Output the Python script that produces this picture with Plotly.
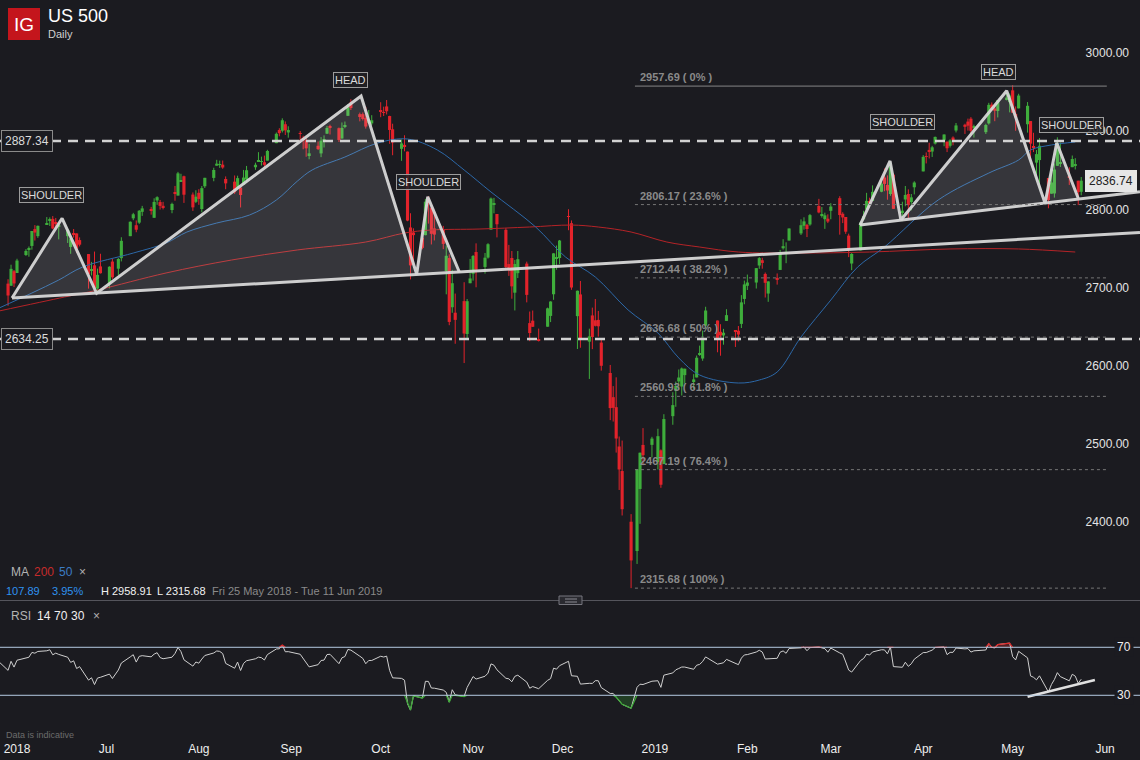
import numpy as np
import pandas as pd
import plotly.graph_objects as go

# ---------------- DATA ----------------
dates = [
 "2018-05-25","2018-05-29","2018-05-30","2018-05-31",
 "2018-06-01","2018-06-04","2018-06-05","2018-06-06","2018-06-07","2018-06-08","2018-06-11","2018-06-12","2018-06-13","2018-06-14","2018-06-15",
 "2018-06-18","2018-06-19","2018-06-20","2018-06-21","2018-06-22","2018-06-25","2018-06-26","2018-06-27","2018-06-28","2018-06-29",
 "2018-07-02","2018-07-03","2018-07-05","2018-07-06","2018-07-09","2018-07-10","2018-07-11","2018-07-12","2018-07-13","2018-07-16","2018-07-17",
 "2018-07-18","2018-07-19","2018-07-20","2018-07-23","2018-07-24","2018-07-25","2018-07-26","2018-07-27","2018-07-30","2018-07-31",
 "2018-08-01","2018-08-02","2018-08-03","2018-08-06","2018-08-07","2018-08-08","2018-08-09","2018-08-10","2018-08-13","2018-08-14","2018-08-15","2018-08-16",
 "2018-08-17","2018-08-20","2018-08-21","2018-08-22","2018-08-23","2018-08-24","2018-08-27","2018-08-28","2018-08-29","2018-08-30","2018-08-31",
 "2018-09-04","2018-09-05","2018-09-06","2018-09-07","2018-09-10","2018-09-11","2018-09-12","2018-09-13","2018-09-14","2018-09-17",
 "2018-09-18","2018-09-19","2018-09-20","2018-09-21","2018-09-24","2018-09-25","2018-09-26","2018-09-27","2018-09-28",
 "2018-10-01","2018-10-02","2018-10-03","2018-10-04","2018-10-05","2018-10-08","2018-10-09","2018-10-10","2018-10-11","2018-10-12","2018-10-15","2018-10-16",
 "2018-10-17","2018-10-18","2018-10-19","2018-10-22","2018-10-23","2018-10-24","2018-10-25","2018-10-26","2018-10-29","2018-10-30","2018-10-31",
 "2018-11-01","2018-11-02","2018-11-05","2018-11-06","2018-11-07","2018-11-08","2018-11-09","2018-11-12","2018-11-13","2018-11-14","2018-11-15",
 "2018-11-16","2018-11-19","2018-11-20","2018-11-21","2018-11-23","2018-11-26","2018-11-27","2018-11-28","2018-11-29","2018-11-30",
 "2018-12-03","2018-12-04","2018-12-06","2018-12-07","2018-12-10","2018-12-11","2018-12-12","2018-12-13","2018-12-14","2018-12-17",
 "2018-12-18","2018-12-19","2018-12-20","2018-12-21","2018-12-24","2018-12-26","2018-12-27","2018-12-28","2018-12-31",
 "2019-01-02","2019-01-03","2019-01-04","2019-01-07","2019-01-08","2019-01-09","2019-01-10","2019-01-11","2019-01-14","2019-01-15","2019-01-16",
 "2019-01-17","2019-01-18","2019-01-22","2019-01-23","2019-01-24","2019-01-25","2019-01-28","2019-01-29","2019-01-30","2019-01-31",
 "2019-02-01","2019-02-04","2019-02-05","2019-02-06","2019-02-07","2019-02-08","2019-02-11","2019-02-12","2019-02-13","2019-02-14",
 "2019-02-15","2019-02-19","2019-02-20","2019-02-21","2019-02-22","2019-02-25","2019-02-26","2019-02-27","2019-02-28",
 "2019-03-01","2019-03-04","2019-03-05","2019-03-06","2019-03-07","2019-03-08","2019-03-11","2019-03-12","2019-03-13","2019-03-14","2019-03-15",
 "2019-03-18","2019-03-19","2019-03-20","2019-03-21","2019-03-22","2019-03-25","2019-03-26","2019-03-27","2019-03-28","2019-03-29",
 "2019-04-01","2019-04-02","2019-04-03","2019-04-04","2019-04-05","2019-04-08","2019-04-09","2019-04-10","2019-04-11","2019-04-12","2019-04-15",
 "2019-04-16","2019-04-17","2019-04-18","2019-04-22","2019-04-23","2019-04-24","2019-04-25","2019-04-26","2019-04-29","2019-04-30",
 "2019-05-01","2019-05-02","2019-05-03","2019-05-06","2019-05-07","2019-05-08","2019-05-09","2019-05-10","2019-05-13","2019-05-14","2019-05-15",
 "2019-05-16","2019-05-17","2019-05-20","2019-05-21","2019-05-22","2019-05-23","2019-05-24",
]

opens = [
 2727.0,2705.1,2702.4,2721.0,
 2718.7,2741.7,2748.5,2753.3,2774.8,2765.8,2780.2,2785.6,2787.9,2783.2,2777.8,2765.8,2752.0,2769.7,2769.3,2760.8,2742.9,2722.1,2728.5,2698.7,2727.1,
 2705.0,2733.3,2724.2,2737.7,2765.8,2788.6,2779.8,2783.1,2796.9,2800.6,2789.3,2811.4,2809.4,2804.6,2799.2,2820.7,2817.7,2835.5,2842.4,2819.0,2809.7,
 2821.2,2800.5,2829.6,2840.3,2855.9,2856.8,2857.2,2838.9,2835.5,2827.9,2828.0,2831.4,2838.3,2853.9,2861.5,2861.0,2860.3,2862.4,2884.7,2901.5,2900.6,2908.9,2898.4,
 2897.0,2891.6,2888.6,2868.3,2881.4,2871.6,2888.3,2896.9,2906.4,2903.8,2890.7,2906.6,2919.7,2936.8,2921.8,2921.8,2917.0,2911.7,2910.0,
 2926.3,2923.8,2931.7,2919.4,2902.5,2877.5,2882.5,2873.9,2776.9,2770.5,2763.8,2767.1,2811.7,2802.0,2775.7,2773.9,2721.0,2737.9,2674.9,2667.9,2682.7,2640.7,2705.6,
 2717.6,2745.5,2726.4,2738.4,2774.1,2806.4,2794.1,2773.9,2730.1,2737.9,2693.5,2718.5,2730.7,2654.6,2657.7,2633.4,2650.0,2663.8,2691.5,2737.0,2737.8,
 2790.5,2782.4,2663.5,2691.3,2630.9,2664.4,2658.2,2658.7,2629.7,2590.8,2559.9,2547.1,2496.8,2465.4,2400.6,2363.1,2442.5,2498.8,2498.9,
 2477.0,2491.9,2474.3,2535.6,2568.1,2580.0,2573.5,2588.1,2580.3,2585.1,2614.8,2609.3,2651.3,2657.9,2643.5,2638.8,2657.4,2645.0,2644.9,2653.6,2685.5,
 2702.3,2706.5,2728.3,2735.1,2717.5,2692.4,2712.4,2722.6,2750.3,2743.5,2760.2,2769.3,2779.1,2780.2,2780.7,2804.4,2792.4,2787.5,2788.1,
 2798.2,2814.4,2794.4,2790.3,2766.5,2730.8,2747.6,2787.3,2799.8,2810.4,2810.8,2822.6,2840.8,2831.3,2819.7,2844.5,2796.0,2812.7,2819.7,2809.4,2828.3,
 2848.6,2868.2,2876.1,2874.0,2884.2,2888.5,2886.6,2881.4,2891.9,2900.9,2908.3,2912.3,2916.0,2904.8,2898.8,2910.0,2934.0,2929.0,2925.8,2940.6,2937.1,
 2952.3,2922.2,2929.2,2908.9,2913.0,2879.6,2859.8,2863.1,2840.2,2820.1,2820.4,2855.8,2858.6,2841.9,2854.0,2856.1,2836.7,2822.5,
]

highs = [
 2731.0,2710.7,2729.3,2722.5,
 2736.9,2749.2,2752.6,2772.4,2779.9,2779.4,2790.2,2789.8,2791.5,2789.1,2782.8,2775.0,2765.1,2774.9,2769.3,2764.2,2742.9,2732.9,2746.1,2724.3,2743.3,
 2727.3,2736.6,2737.8,2764.4,2784.7,2795.6,2785.9,2799.2,2804.5,2803.2,2814.2,2816.8,2812.1,2809.7,2808.6,2830.0,2848.0,2845.6,2843.2,2821.7,2824.5,
 2825.8,2829.9,2840.4,2853.3,2863.4,2862.4,2862.5,2842.2,2843.4,2843.1,2828.0,2850.5,2855.6,2859.8,2873.2,2867.5,2868.8,2876.2,2898.3,2903.8,2916.5,2912.5,2906.3,
 2900.2,2894.2,2892.1,2883.8,2886.9,2892.5,2894.7,2906.8,2908.3,2904.7,2911.2,2912.4,2934.8,2940.9,2923.8,2924.0,2931.2,2927.2,2920.5,
 2937.1,2931.4,2939.9,2919.8,2909.6,2889.5,2894.8,2874.0,2795.1,2775.8,2776.0,2813.5,2816.9,2806.0,2797.8,2778.9,2753.6,2742.6,2722.7,2692.4,2706.9,2685.4,2736.7,
 2741.7,2756.6,2744.3,2756.8,2815.2,2814.8,2794.1,2776.0,2754.6,2746.8,2735.4,2746.8,2733.2,2669.4,2670.7,2647.6,2674.4,2682.5,2744.0,2753.8,2760.9,
 2800.2,2785.9,2696.2,2708.5,2647.5,2674.4,2685.4,2670.2,2635.1,2601.1,2574.0,2585.3,2509.6,2504.4,2410.3,2467.8,2489.1,2520.3,2509.2,
 2519.5,2493.1,2538.1,2566.2,2579.8,2595.3,2597.8,2596.3,2589.3,2613.1,2625.8,2645.1,2675.5,2657.9,2653.2,2647.2,2672.4,2645.0,2650.9,2690.4,2709.0,
 2716.7,2725.0,2739.0,2738.1,2719.3,2708.1,2718.1,2748.2,2761.9,2757.9,2775.7,2787.3,2789.9,2781.6,2794.2,2813.5,2803.1,2795.8,2793.7,
 2808.0,2816.9,2796.4,2790.3,2769.0,2744.1,2784.0,2798.3,2821.2,2815.0,2830.7,2835.4,2852.4,2843.5,2860.3,2846.2,2809.8,2829.9,2825.6,2819.7,2836.0,
 2869.4,2872.9,2885.3,2881.3,2893.2,2896.0,2886.9,2889.7,2893.4,2910.5,2909.6,2916.1,2918.0,2908.4,2909.5,2936.3,2936.8,2933.1,2939.9,2949.5,2948.2,
 2958.91,2931.7,2947.9,2937.3,2913.0,2898.0,2876.0,2891.3,2840.2,2852.5,2858.7,2892.2,2885.5,2853.9,2868.9,2865.5,2836.7,2841.4,
]

lows = [
 2715.0,2676.8,2702.4,2700.7,
 2718.7,2740.5,2739.5,2748.5,2760.2,2763.6,2780.2,2778.8,2774.7,2776.5,2761.7,2757.1,2743.2,2763.9,2744.4,2752.7,2698.7,2715.6,2699.4,2692.0,2718.0,
 2699.0,2711.2,2716.0,2733.5,2765.8,2786.2,2770.8,2781.5,2791.7,2793.3,2789.2,2805.9,2799.8,2800.0,2795.1,2811.1,2817.7,2835.3,2808.3,2798.1,2808.1,
 2805.9,2796.3,2827.4,2836.0,2855.9,2853.1,2852.0,2825.8,2819.9,2826.6,2802.5,2831.4,2833.7,2850.6,2861.3,2856.1,2854.0,2862.4,2884.7,2893.5,2898.4,2895.2,2891.7,
 2885.1,2876.9,2867.3,2864.1,2875.9,2866.8,2879.2,2896.4,2895.8,2886.2,2890.4,2903.8,2919.7,2927.1,2912.6,2913.7,2903.3,2909.3,2907.5,
 2917.9,2919.4,2921.4,2883.9,2869.3,2862.1,2874.3,2784.9,2710.5,2729.4,2749.0,2766.9,2781.8,2755.2,2760.3,2749.2,2691.4,2651.9,2667.8,2628.2,2603.5,2635.3,2705.6,
 2708.9,2700.4,2717.9,2737.1,2774.1,2795.0,2764.2,2722.0,2715.0,2685.8,2670.8,2712.2,2681.1,2631.5,2649.8,2631.1,2650.0,2655.9,2684.4,2722.9,2730.1,
 2773.4,2697.2,2621.5,2623.1,2583.2,2621.3,2650.3,2637.3,2593.8,2530.5,2528.7,2489.0,2441.2,2408.6,2315.68,2346.6,2397.9,2472.9,2482.8,
 2467.5,2444.0,2474.3,2524.6,2547.6,2568.9,2562.0,2577.4,2570.4,2585.1,2612.7,2606.4,2647.6,2617.3,2612.9,2627.0,2657.3,2624.1,2631.1,2648.3,2678.7,
 2696.9,2698.8,2724.0,2724.2,2687.3,2681.8,2703.8,2722.6,2748.6,2731.2,2760.2,2767.3,2774.1,2764.6,2779.1,2795.0,2789.5,2775.1,2782.5,
 2787.4,2767.7,2782.5,2768.7,2739.0,2722.3,2747.6,2786.7,2799.8,2803.5,2810.8,2822.0,2823.3,2812.4,2817.4,2800.5,2785.0,2804.0,2787.7,2798.8,2819.2,
 2848.6,2858.8,2865.2,2867.1,2883.0,2880.8,2873.3,2879.1,2882.0,2898.4,2896.5,2900.7,2895.5,2891.9,2896.4,2908.5,2926.1,2912.8,2917.6,2939.4,2924.1,
 2923.4,2900.5,2929.2,2898.2,2862.6,2873.3,2836.4,2825.4,2801.4,2820.1,2815.1,2855.8,2854.2,2831.3,2854.0,2851.1,2805.5,2818.0,
]

closes = [
 2721.3,2689.9,2724.0,2705.3,
 2734.6,2746.9,2748.8,2772.4,2770.4,2779.0,2782.0,2786.9,2775.6,2782.5,2779.7,2773.8,2762.6,2767.3,2749.8,2754.9,2717.1,2723.1,2699.6,2716.3,2718.4,
 2726.7,2713.2,2736.6,2759.8,2784.2,2793.8,2774.0,2798.3,2801.3,2798.4,2809.6,2815.6,2804.5,2801.8,2807.0,2820.4,2846.1,2837.4,2818.8,2802.6,2816.3,
 2813.4,2827.2,2840.4,2850.4,2858.5,2857.7,2853.6,2833.3,2821.9,2840.0,2818.4,2840.7,2850.1,2857.1,2863.0,2861.8,2857.0,2874.7,2896.7,2897.5,2914.0,2901.1,2901.5,
 2896.7,2888.6,2878.1,2871.7,2877.1,2887.9,2888.9,2904.2,2905.0,2888.8,2904.3,2908.0,2930.8,2929.7,2919.4,2915.6,2906.0,2914.0,2914.0,
 2924.6,2923.4,2925.5,2901.6,2885.6,2884.4,2880.3,2785.7,2728.4,2767.1,2750.8,2809.9,2809.2,2768.8,2767.8,2755.9,2740.7,2656.1,2705.6,2658.7,2641.3,2682.6,2711.7,
 2740.4,2723.1,2738.3,2755.5,2813.9,2806.8,2781.0,2726.2,2722.2,2701.6,2730.2,2736.3,2690.7,2641.9,2649.9,2632.6,2673.5,2682.2,2743.8,2737.8,2760.2,
 2790.4,2700.1,2696.0,2633.1,2637.7,2636.8,2651.1,2650.5,2600.0,2545.9,2546.2,2507.0,2467.4,2416.6,2351.1,2467.7,2488.8,2485.7,2506.9,
 2510.0,2447.9,2531.9,2549.7,2574.4,2585.0,2596.6,2596.3,2582.6,2610.3,2616.1,2636.0,2670.7,2632.9,2638.7,2642.3,2664.8,2643.9,2640.0,2681.1,2704.1,
 2706.5,2724.9,2737.7,2731.6,2706.1,2707.9,2709.8,2744.7,2753.0,2745.7,2775.6,2779.8,2784.7,2774.9,2792.7,2796.1,2793.9,2792.4,2784.5,
 2803.7,2792.8,2789.7,2771.5,2748.9,2743.1,2783.3,2791.5,2810.9,2808.5,2822.5,2832.9,2832.6,2824.2,2854.9,2800.7,2798.4,2818.5,2805.4,2815.4,2834.4,
 2867.2,2867.2,2873.4,2879.4,2892.7,2895.8,2878.2,2888.2,2888.3,2907.4,2905.6,2907.1,2900.5,2905.0,2908.0,2933.7,2927.3,2926.2,2939.9,2943.0,2945.8,
 2923.7,2917.5,2945.6,2932.5,2884.1,2879.4,2870.7,2881.4,2811.9,2834.4,2851.0,2876.3,2859.5,2840.2,2864.4,2856.3,2822.2,2836.74,
]

# closes before the visible window (Apr-May 2018), only used to seed the RSI
warmup_closes = [
 2581.9,2614.5,2644.7,2662.8,2604.5,2613.2,2656.9,2642.2,2664.0,2656.3,2677.8,2706.4,2708.6,2693.1,2670.1,
 2670.3,2634.6,2639.4,2666.9,2669.9,2648.1,2654.8,2635.7,2629.7,2663.4,2672.6,2671.9,2697.8,2723.1,2727.7,
 2730.1,2711.5,2722.5,2720.1,2713.0,2733.0,2724.4,2733.3,2727.8,
]

# moving averages
ma50_dates = ["2018-05-26","2018-06-06","2018-06-15","2018-06-23","2018-07-10","2018-07-21","2018-07-28","2018-08-07",
              "2018-08-18","2018-08-27","2018-09-03","2018-09-08","2018-09-19","2018-09-30","2018-10-10","2018-10-20",
              "2018-10-29","2018-11-07","2018-11-22","2018-12-02","2018-12-12","2018-12-23","2019-01-02","2019-01-09",
              "2019-01-16","2019-01-29","2019-02-05","2019-02-11","2019-02-19","2019-03-01","2019-03-10","2019-03-19",
              "2019-04-06","2019-04-23","2019-05-03","2019-05-07","2019-05-14","2019-05-22"]
ma50_values = [2673.9,2693.1,2709.7,2726.3,2744.2,2757.0,2771.1,2782.6,
               2792.8,2812.0,2836.0,2850.4,2867.0,2884.9,2890.0,2876.0,
               2850.4,2822.3,2777.5,2739.1,2713.6,2671.4,2642.0,2610.0,
               2588.2,2578.0,2581.8,2592.1,2636.8,2684.1,2726.3,2751.9,
               2812.0,2846.5,2863.2,2876.0,2882.4,2886.2]
ma200_dates = ["2018-05-26","2018-06-17","2018-06-28","2018-07-21","2018-08-12","2018-09-03","2018-09-26","2018-10-09",
               "2018-10-18","2018-11-03","2018-11-20","2018-12-04","2018-12-13","2018-12-24","2019-01-05","2019-01-16",
               "2019-01-29","2019-02-18","2019-03-14","2019-04-10","2019-05-03","2019-05-22"]
ma200_values = [2670.1,2688.0,2696.9,2718.7,2735.3,2748.1,2758.3,2769.8,
                2773.7,2774.9,2777.5,2780.0,2777.5,2771.1,2758.3,2751.9,
                2745.5,2744.2,2745.5,2749.4,2749.4,2745.5]

# Fibonacci retracement levels
fib_levels = [2957.69, 2806.17, 2712.44, 2636.68, 2560.93, 2467.19, 2315.68]
fib_pcts = ["0%", "23.6%", "38.2%", "50%", "61.8%", "76.4%", "100%"]
fib_start, fib_end = "2018-12-25 07:00", "2019-06-01 14:00"

# horizontal levels
h_levels = [2887.34, 2634.25]
last_price = 2836.74

# head & shoulders drawings
hs1_dates = ["2018-05-30 08:00","2018-06-16 03:00","2018-06-27 17:00","2018-09-24 10:00",
             "2018-10-13 02:00","2018-10-16 19:00","2018-10-27 10:00"]
hs1_values = [2686.7, 2788.6, 2692.7, 2945.0, 2717.0, 2816.2, 2719.6]
neck1_dates = ["2018-05-30 08:00", "2019-06-12 17:00"]
neck1_values = [2686.7, 2770.6]
hs2_dates = ["2019-03-10 19:00","2019-03-20 21:00","2019-03-24 12:00","2019-04-29 00:00",
             "2019-05-11 21:00","2019-05-15 19:00","2019-05-23 00:00"]
hs2_values = [2780.0, 2861.9, 2786.4, 2951.8, 2807.8, 2885.3, 2814.2]
neck2_dates = ["2019-03-10 19:00", "2019-06-12 17:00"]
neck2_values = [2780.0, 2822.6]
rsi_trend_dates = ["2019-05-06 00:00", "2019-05-28 14:00"]
rsi_trend_values = [28.8, 42.8]

month_ticks = ["2018-06-01","2018-07-01","2018-08-01","2018-09-01","2018-10-01","2018-11-01","2018-12-01",
               "2019-01-01","2019-02-01","2019-03-01","2019-04-01","2019-05-01","2019-06-01"]
month_labels = ["2018","Jul","Aug","Sep","Oct","Nov","Dec","2019","Feb","Mar","Apr","May","Jun"]

# ---------------- RSI (14, Wilder) ----------------
allc = np.array(warmup_closes + closes, dtype=float)
d = np.diff(allc)
gain = np.clip(d, 0, None)
loss = np.clip(-d, 0, None)
n = 14
rsi_all = np.full(len(allc), np.nan)
ag, al = gain[:n].mean(), loss[:n].mean()
rsi_all[n] = 100 - 100 / (1 + ag / al)
for i in range(n + 1, len(allc)):
    ag = (ag * (n - 1) + gain[i - 1]) / n
    al = (al * (n - 1) + loss[i - 1]) / n
    rsi_all[i] = 100.0 if al == 0 else 100 - 100 / (1 + ag / al)
rsi = rsi_all[len(warmup_closes):]

# ---------------- STYLE ----------------
BG = "#1b1b20"
UP, DOWN = "#3fae3c", "#e3232b"
W, PH = 1140, 740
FONT = "Liberation Sans, Arial, Helvetica, sans-serif"
DAY_MS = 86400000


def px(p):
    return p / W


def py(p):
    return (PH - p) / PH


x_start = pd.Timestamp("2018-06-01") - pd.Timedelta(days=17 / 2.981)
x_end = pd.Timestamp("2018-06-01") + pd.Timedelta(days=1123 / 2.981)

fig = go.Figure()

# ---- candles: wicks + bodies ----
o = np.array(opens); h = np.array(highs); l = np.array(lows); c = np.array(closes)
is_up = c >= o
for mask, col in [(is_up, UP), (~is_up, DOWN)]:
    wx, wy = [], []
    for dt, hi, lo in zip(np.array(dates)[mask], h[mask], l[mask]):
        wx += [dt, dt, None]
        wy += [lo, hi, None]
    fig.add_trace(go.Scatter(x=wx, y=wy, mode="lines", line=dict(color=col, width=1),
                             xaxis="x", yaxis="y", hoverinfo="skip"))
    base = np.minimum(o, c)[mask]
    size = np.maximum(np.abs(c - o)[mask], 0.9)
    fig.add_trace(go.Bar(x=np.array(dates)[mask], y=size, base=base, width=DAY_MS * 1.05,
                         marker=dict(color=col, line=dict(width=0)), xaxis="x", yaxis="y", hoverinfo="skip"))

fig.add_trace(go.Scatter(x=ma200_dates, y=ma200_values, mode="lines", line=dict(color="#b52327", width=1, shape="spline"),
                         xaxis="x", yaxis="y", hoverinfo="skip"))
fig.add_trace(go.Scatter(x=ma50_dates, y=ma50_values, mode="lines", line=dict(color="#2c68a8", width=1, shape="spline"),
                         xaxis="x", yaxis="y", hoverinfo="skip"))

# pattern fills and outlines
for pd_, pv_ in [(hs1_dates, hs1_values), (hs2_dates, hs2_values)]:
    fig.add_trace(go.Scatter(x=pd_ + [pd_[0]], y=pv_ + [pv_[0]], mode="lines", fill="toself",
                             fillcolor="rgba(255,255,255,0.12)", line=dict(width=0),
                             xaxis="x", yaxis="y", hoverinfo="skip"))
for pd_, pv_ in [(neck1_dates, neck1_values), (neck2_dates, neck2_values), (hs1_dates, hs1_values), (hs2_dates, hs2_values)]:
    fig.add_trace(go.Scatter(x=pd_, y=pv_, mode="lines", line=dict(color="rgba(215,215,215,0.95)", width=3),
                             xaxis="x", yaxis="y", hoverinfo="skip"))

# RSI panel
N = len(dates)
rsi_hi = np.maximum(rsi, 70)
rsi_lo = np.minimum(rsi, 30)
fig.add_trace(go.Scatter(x=dates, y=[70] * N, mode="lines", line=dict(width=0), xaxis="x2", yaxis="y2", hoverinfo="skip"))
fig.add_trace(go.Scatter(x=dates, y=rsi_hi, mode="lines", line=dict(width=0), fill="tonexty",
                         fillcolor="rgba(220,40,40,0.3)", xaxis="x2", yaxis="y2", hoverinfo="skip"))
fig.add_trace(go.Scatter(x=dates, y=[30] * N, mode="lines", line=dict(width=0), xaxis="x2", yaxis="y2", hoverinfo="skip"))
fig.add_trace(go.Scatter(x=dates, y=rsi_lo, mode="lines", line=dict(width=0), fill="tonexty",
                         fillcolor="rgba(45,130,45,0.35)", xaxis="x2", yaxis="y2", hoverinfo="skip"))
fig.add_trace(go.Scatter(x=dates, y=rsi, mode="lines", line=dict(color="#cfcfcf", width=1),
                         xaxis="x2", yaxis="y2", hoverinfo="skip"))

above = rsi > 70
below = rsi < 30
m_hi = above | np.roll(above, 1) | np.roll(above, -1)
m_lo = below | np.roll(below, 1) | np.roll(below, -1)
fig.add_trace(go.Scatter(x=dates, y=np.where(m_hi, rsi_hi, np.nan), mode="lines", line=dict(color="#e02a2a", width=1.2),
                         connectgaps=False, xaxis="x2", yaxis="y2", hoverinfo="skip"))
fig.add_trace(go.Scatter(x=dates, y=np.where(m_lo, rsi_lo, np.nan), mode="lines", line=dict(color="#3caa35", width=1.2),
                         connectgaps=False, xaxis="x2", yaxis="y2", hoverinfo="skip"))
fig.add_trace(go.Scatter(x=rsi_trend_dates, y=rsi_trend_values, mode="lines", line=dict(color="#e0e0e0", width=2.5),
                         xaxis="x2", yaxis="y2", hoverinfo="skip"))

# ---------------- SHAPES ----------------
shapes = []
for lv in h_levels:
    shapes.append(dict(type="line", xref="paper", x0=0, x1=1, yref="y", y0=lv, y1=lv,
                       line=dict(color="#d2d2d2", width=2.5, dash="10px,7px")))
for lv, pc in zip(fib_levels, fib_pcts):
    shapes.append(dict(type="line", xref="x", x0=fib_start, x1=fib_end, yref="y", y0=lv, y1=lv,
                       line=dict(color="#858585" if pc == "0%" else "#767676", width=1,
                                 dash="solid" if pc == "0%" else "3px,3px")))
for lv in (70, 30):
    shapes.append(dict(type="line", xref="paper", x0=0, x1=1, yref="y2", y0=lv, y1=lv,
                       line=dict(color="#b5cbe2", width=1)))
# separator + handle
shapes.append(dict(type="line", xref="paper", yref="paper", x0=0, x1=1, y0=py(600.5), y1=py(600.5),
                   line=dict(color="#55555c", width=1)))
shapes.append(dict(type="rect", xref="paper", yref="paper", x0=px(559), x1=px(582), y0=py(604.5), y1=py(596),
                   fillcolor="#2a2a30", line=dict(color="#76767e", width=1)))
for yy in (599, 602):
    shapes.append(dict(type="line", xref="paper", yref="paper", x0=px(565), x1=px(577), y0=py(yy), y1=py(yy),
                       line=dict(color="#8a8a92", width=1)))
# logo
shapes.append(dict(type="rect", xref="paper", yref="paper", x0=px(8), x1=px(40), y0=py(40), y1=py(8),
                   fillcolor="#c4151c", line=dict(width=0)))

# ---------------- ANNOTATIONS ----------------
ann = []


def txt(text, x, y, size=12, color="#ddd", xanchor="left", **kw):
    ann.append(dict(text=text, xref="paper", yref="paper", x=px(x), y=py(y), xanchor=xanchor, yanchor="middle",
                    showarrow=False, font=dict(size=size, color=color, family=FONT), **kw))


txt("IG", 24, 25, size=19, color="#ffffff", xanchor="center")
txt("US 500", 46, 16, size=18, color="#ffffff")
txt("Daily", 46, 34, size=11, color="#d0d0d0")

for t, x, cc in [("MA", 9, "#b4b4b4"), ("200", 32, "#c62b2b"), ("50", 57, "#3b7cc4"), ("×", 77, "#b0b0b0")]:
    txt(t, x, 572, size=12, color=cc)
for t, x, cc in [("107.89", 4, "#2f93f0"), ("3.95%", 50, "#2f93f0"), ("H 2958.91", 99, "#f2f2f2"),
                 ("L 2315.68", 155, "#f2f2f2"), ("Fri 25 May 2018 - Tue 11 Jun 2019", 210, "#8a8a8a")]:
    txt(t, x, 591, size=11, color=cc)
for t, x, cc in [("RSI", 9, "#b4b4b4"), ("14", 35, "#f0f0f0"), ("70", 52, "#f0f0f0"), ("30", 69, "#f0f0f0"), ("×", 91, "#b0b0b0")]:
    txt(t, x, 616, size=12, color=cc)
txt("Data is indicative", 4, 735, size=9, color="#6c6c6c")

for t, x, y in [("SHOULDER", 51, 194.5), ("HEAD", 350, 80), ("SHOULDER", 428, 182),
                ("SHOULDER", 902, 122), ("HEAD", 999, 72), ("SHOULDER", 1071, 125)]:
    txt(t, x, y, size=11, color="#dadada", xanchor="center", bgcolor="rgba(32,32,37,0.85)",
        bordercolor="#9c9c9c", borderwidth=1, borderpad=1)

for lv, pc in zip(fib_levels, fib_pcts):
    ann.append(dict(text="<b>%.2f ( %s )</b>" % (lv, pc), xref="x", yref="y", x=fib_start, y=lv,
                    xanchor="left", yanchor="bottom", xshift=3, yshift=1, showarrow=False,
                    font=dict(size=11, color="#8a8a8a", family=FONT)))

for lv in h_levels:
    ann.append(dict(text="%.2f" % lv, xref="paper", yref="y", x=px(1), y=lv, xanchor="left", yanchor="middle",
                    showarrow=False, bgcolor=BG, bordercolor="#8a8a8a", borderwidth=1, borderpad=3,
                    font=dict(size=12, color="#dcdcdc", family=FONT)))
ann.append(dict(text="%.2f" % last_price, xref="paper", yref="y", x=px(1137), y=last_price, xanchor="right",
                yanchor="middle", showarrow=False, bgcolor="#e6e6e6", bordercolor="#e6e6e6", borderwidth=1,
                borderpad=3, font=dict(size=12, color="#222", family=FONT)))
for lv in (70, 30):
    ann.append(dict(text=str(lv), xref="paper", yref="y2", x=px(1124), y=lv, xanchor="center", yanchor="middle",
                    showarrow=False, bgcolor=BG, borderpad=2, font=dict(size=12, color="#f0f0f0", family=FONT)))

fig.update_layout(
    width=1140, height=760, margin=dict(l=0, r=0, t=0, b=20),
    paper_bgcolor=BG, plot_bgcolor=BG, showlegend=False, hovermode=False, barmode="overlay",
    font=dict(family=FONT, color="#dddddd"),
    shapes=shapes, annotations=ann,
    xaxis=dict(domain=[0, 1], anchor="y", type="date", range=[x_start, x_end], showticklabels=False,
               showgrid=False, zeroline=False, showline=False, ticks="", rangeslider=dict(visible=False)),
    yaxis=dict(domain=[py(600), 1], anchor="x", range=[2300.5, 3067.8], side="right", ticklabelposition="inside",
               tickvals=[2400, 2500, 2600, 2700, 2800, 2900, 3000],
               ticktext=["2400.00", "2500.00", "2600.00", "2700.00", "2800.00", "2900.00", "3000.00"],
               tickfont=dict(size=12, color="#e4e4e4", family=FONT), ticks="", ticklabelstandoff=8,
               showgrid=False, zeroline=False, showline=False),
    xaxis2=dict(domain=[0, 1], anchor="y2", type="date", matches="x", range=[x_start, x_end],
                tickvals=month_ticks, ticktext=month_labels, tickfont=dict(size=12, color="#eeeeee", family=FONT),
                ticks="", showgrid=False, zeroline=False, showline=False),
    yaxis2=dict(domain=[0, py(603)], anchor="x2", range=[-7.25, 106.9], showticklabels=False, showgrid=False,
                zeroline=False, showline=False),
)

assert len(dates) == len(opens) == len(highs) == len(lows) == len(closes)
fig.write_html("out.html")
